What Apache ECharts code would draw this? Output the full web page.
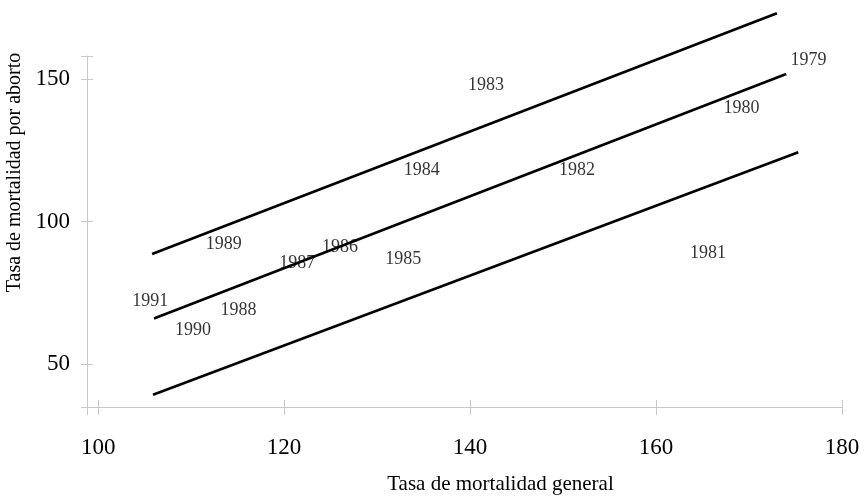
<!DOCTYPE html>
<html>
<head>
<meta charset="utf-8">
<script src="https://cdn.jsdelivr.net/npm/echarts@6/dist/echarts.min.js"></script>
<style>
html,body{margin:0;padding:0;background:#fff;}
#chart{width:867px;height:498px;}
</style>
</head>
<body>
<div id="chart"></div>
<script>
// Year labels (text placed at each year's point)
var years = ['1979','1980','1981','1982','1983','1984','1985','1986','1987','1988','1989','1990','1991'];
var generalRate = [176.4, 169.2, 165.6, 151.5, 141.7, 134.8, 132.8, 126.0, 121.4, 115.1, 113.5, 110.2, 105.6];
var abortionRate = [156.6, 139.7, 88.9, 117.8, 147.8, 117.8, 86.7, 91.0, 85.4, 69.0, 92.0, 61.8, 72.2];

// Fitted line and bounds: [x start, x end], [y start, y end]
var upperX = [105.8, 173.0];
var upperY = [88.6, 173.0];
var fitX = [106.0, 174.0];
var fitY = [66.0, 151.7];
var lowerX = [105.9, 175.3];
var lowerY = [39.3, 124.3];

// Axis ticks
var xTicks = [100, 120, 140, 160, 180];
var yTicks = [50, 100, 150];
var xMin = 98.8, xMax = 180;
var yMin = 35, yMax = 158;

var font = 'Liberation Serif';
var axisGray = '#c8c8c8';

function pairs(xs, ys) { return xs.map(function (x, i) { return [x, ys[i]]; }); }

var labelData = years.map(function (y, i) {
  return { name: y, value: [generalRate[i], abortionRate[i]] };
});

var chart = echarts.init(document.getElementById('chart'), null, { renderer: 'canvas' });

var xTickVals = [xMin].concat(xTicks);
var yTickVals = [yMin].concat(yTicks).concat([yMax]);

chart.setOption({
  animation: false,
  backgroundColor: '#fff',
  grid: { left: 87, top: 56, width: 755, height: 351, containLabel: false, outerBoundsMode: 'none' },
  xAxis: [{
    type: 'value', min: xMin, max: xMax,
    name: 'Tasa de mortalidad general', nameLocation: 'middle', nameGap: 67,
    nameTextStyle: { fontFamily: font, fontSize: 21, color: '#000', padding: [0, 0, 0, 72] },
    axisLine: { show: true, lineStyle: { color: axisGray, width: 1 } },
    axisTick: { show: true, inside: false, length: 8, customValues: xTickVals, lineStyle: { color: axisGray } },
    axisLabel: { show: true, customValues: xTicks, margin: 29, fontFamily: font, fontSize: 23, color: '#000' },
    splitLine: { show: false }
  }, {
    type: 'value', min: xMin, max: xMax, position: 'bottom',
    axisLine: { show: false },
    axisTick: { show: true, inside: true, length: 7, customValues: xTickVals, lineStyle: { color: axisGray } },
    axisLabel: { show: false },
    splitLine: { show: false }
  }],
  yAxis: [{
    type: 'value', min: yMin, max: yMax,
    name: 'Tasa de mortalidad por aborto', nameLocation: 'middle', nameGap: 58, nameRotate: 90,
    nameTextStyle: { fontFamily: font, fontSize: 20, color: '#000', padding: [0, 0, 0, 118] },
    axisLine: { show: true, lineStyle: { color: axisGray, width: 1 } },
    axisTick: { show: true, inside: false, length: 6, customValues: yTickVals, lineStyle: { color: axisGray } },
    axisLabel: { show: true, customValues: yTicks, margin: 17, fontFamily: font, fontSize: 23, color: '#000' },
    splitLine: { show: false }
  }, {
    type: 'value', min: yMin, max: yMax, position: 'left',
    axisLine: { show: false },
    axisTick: { show: true, inside: true, length: 6, customValues: yTickVals, lineStyle: { color: axisGray } },
    axisLabel: { show: false },
    splitLine: { show: false }
  }],
  series: [
    { type: 'line', data: pairs(upperX, upperY), symbol: 'none', clip: false, silent: true,
      lineStyle: { color: '#000', width: 2.6 } },
    { type: 'line', data: pairs(fitX, fitY), symbol: 'none', clip: false, silent: true,
      lineStyle: { color: '#000', width: 2.6 } },
    { type: 'line', data: pairs(lowerX, lowerY), symbol: 'none', clip: false, silent: true,
      lineStyle: { color: '#000', width: 2.6 } },
    { type: 'scatter', data: labelData, symbolSize: 2, clip: false, silent: true,
      itemStyle: { color: 'rgba(0,0,0,0)' },
      label: { show: true, position: 'inside', formatter: '{b}', fontFamily: font, fontSize: 18, color: '#000' } }
  ]
});
</script>
</body>
</html>
